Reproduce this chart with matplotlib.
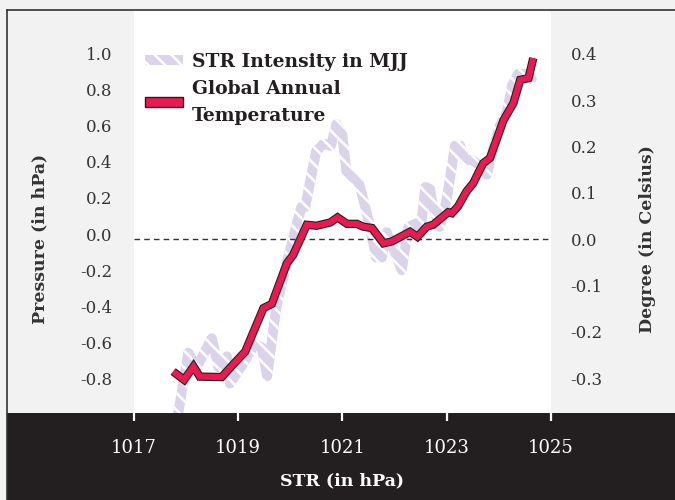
import matplotlib
matplotlib.use("Agg")
import matplotlib.pyplot as plt
import numpy as np
from matplotlib import patheffects as pe
from matplotlib.collections import PatchCollection
from matplotlib.lines import Line2D
from matplotlib.patches import Patch, Polygon, Rectangle

# STR intensity in MJJ (left axis, hPa)
str_x = [1017.82, 1018.05, 1018.21, 1018.50, 1018.63, 1018.79, 1018.85, 1019.10,
         1019.33, 1019.46, 1019.56, 1019.74, 1019.94, 1020.13, 1020.22, 1020.29,
         1020.50, 1020.64, 1020.78, 1020.89, 1021.00, 1021.08, 1021.18, 1021.31,
         1021.38, 1021.50, 1021.58, 1021.65, 1021.76, 1021.85, 1021.98, 1022.14,
         1022.27, 1022.43, 1022.49, 1022.59, 1022.68, 1022.74, 1022.87, 1023.00,
         1023.16, 1023.26, 1023.35, 1023.49, 1023.64, 1023.77, 1023.89, 1024.02,
         1024.15, 1024.25, 1024.37, 1024.50, 1024.63]
str_y = [-1.06, -0.66, -0.74, -0.58, -0.74, -0.68, -0.83, -0.72,
         -0.61, -0.63, -0.79, -0.40, -0.16, 0.06, 0.15, 0.15,
         0.46, 0.50, 0.49, 0.61, 0.55, 0.35, 0.32, 0.29,
         0.22, 0.08, -0.03, -0.13, -0.13, 0.01, -0.08, -0.20,
         0.04, 0.06, -0.01, 0.26, 0.25, 0.15, 0.04, 0.19,
         0.49, 0.49, 0.41, 0.41, 0.38, 0.33, 0.47, 0.60,
         0.67, 0.82, 0.89, 0.89, 0.86]

# Global annual temperature (right axis, degrees C)
temp_x = [1017.76, 1017.97, 1018.15, 1018.27, 1018.69, 1018.85, 1019.14, 1019.49,
          1019.65, 1019.94, 1020.06, 1020.32, 1020.51, 1020.77, 1020.91, 1021.09,
          1021.28, 1021.40, 1021.57, 1021.79, 1021.95, 1022.30, 1022.44, 1022.62,
          1022.74, 1023.03, 1023.10, 1023.22, 1023.38, 1023.51, 1023.70, 1023.83,
          1024.09, 1024.28, 1024.41, 1024.57, 1024.66]
temp_y = [-0.286, -0.304, -0.275, -0.297, -0.298, -0.278, -0.243, -0.149,
          -0.140, -0.052, -0.034, 0.031, 0.029, 0.036, 0.047, 0.033,
          0.033, 0.027, 0.024, -0.009, -0.005, 0.016, 0.005, 0.027,
          0.031, 0.058, 0.056, 0.071, 0.103, 0.121, 0.164, 0.175,
          0.257, 0.294, 0.344, 0.348, 0.391]

x_ticks = [1017, 1019, 1021, 1023, 1025]
left_ticks = [-0.8, -0.6, -0.4, -0.2, 0.0, 0.2, 0.4, 0.6, 0.8, 1.0]
right_ticks = [-0.3, -0.2, -0.1, 0.0, 0.1, 0.2, 0.3, 0.4]

LAVENDER = "#dad3e9"
RED = "#ea1a50"
DARK = "#231f20"
BG = "#f2f2f2"
TXT = "#333333"

plt.rcParams["font.family"] = "DejaVu Serif"
plt.rcParams["hatch.linewidth"] = 1.9
plt.rcParams["hatch.color"] = "white"


def hatched_stroke(ax, xs, ys, width_px):
    """Build the outline of a thick line as polygons (so it can carry a hatch)."""
    pts = ax.transData.transform(np.column_stack([xs, ys]))
    inv = ax.transData.inverted()
    half = width_px / 2
    polys = []
    for p0, p1 in zip(pts[:-1], pts[1:]):
        d = p1 - p0
        n = np.array([-d[1], d[0]]) / np.hypot(*d) * half
        quad = np.array([p0 + n, p1 + n, p1 - n, p0 - n])
        polys.append(Polygon(inv.transform(quad)))
    ang = np.linspace(0, 2 * np.pi, 24)
    ring = np.column_stack([np.cos(ang), np.sin(ang)]) * half
    for p in pts:
        polys.append(Polygon(inv.transform(ring + p)))
    return PatchCollection(polys, facecolor=LAVENDER, edgecolor="white",
                           linewidth=0, hatch="\\\\", zorder=2)


fig = plt.figure(figsize=(6.75, 5), dpi=100, facecolor=BG)

# dark band at the bottom and the frame lines
fig.add_artist(Rectangle((7 / 675, 0), 1, 87 / 500, transform=fig.transFigure,
                         facecolor=DARK, edgecolor="none", zorder=0))
fig.add_artist(Line2D([7 / 675, 7 / 675], [0, 490 / 500], transform=fig.transFigure,
                      color=TXT, lw=1.2))
fig.add_artist(Line2D([7 / 675, 1], [490 / 500, 490 / 500], transform=fig.transFigure,
                      color=TXT, lw=1.2))

ax = fig.add_axes([133.5 / 675, 87 / 500, 417.5 / 675, 403 / 500])
ax.set_facecolor("white")
ax.set_xlim(1017, 1025)
ax.set_ylim(-0.994, 1.244)
ax2 = ax.twinx()
ax2.set_ylim(-0.3756, 0.495)

ax.add_collection(hatched_stroke(ax, str_x, str_y, 10))

ax2.axhline(0, color=TXT, lw=1, dashes=(4, 3), zorder=1)
ax2.plot(temp_x, temp_y, color=RED, lw=4.4, solid_joinstyle="miter",
         solid_capstyle="butt", zorder=3,
         path_effects=[pe.Stroke(linewidth=6.0, foreground=DARK), pe.Normal()])

for a in (ax, ax2):
    for s in a.spines.values():
        s.set_visible(False)

ax.set_xticks(x_ticks)
ax.tick_params(axis="x", colors="white", length=6, width=1.6, pad=13, labelsize=13)
ax.set_yticks(left_ticks)
ax.set_yticklabels([f"{v:.1f}" for v in left_ticks])
ax.tick_params(axis="y", length=0, pad=15, labelsize=12, labelcolor=TXT)
ax2.set_yticks(right_ticks)
ax2.set_yticklabels([f"{v:.1f}" for v in right_ticks])
ax2.tick_params(axis="y", length=0, pad=14, labelsize=12, labelcolor=TXT)

ax.set_xlabel("STR (in hPa)", color="white", fontweight="bold", fontsize=12.5)
ax.xaxis.set_label_coords(0.5, -0.147)
ax.set_ylabel("Pressure (in hPa)", color=TXT, fontweight="bold", fontsize=12.5)
ax.yaxis.set_label_coords(-0.203, 0.432)
ax2.set_ylabel("Degree (in Celsius)", color=TXT, fontweight="bold", fontsize=12.5)
ax2.yaxis.set_label_coords(1.21, 0.432)

handles = [Patch(facecolor=LAVENDER, edgecolor="white", linewidth=0, hatch="\\\\"),
           Patch(facecolor=RED, edgecolor=DARK, linewidth=1)]
leg = ax2.legend(handles, ["STR Intensity in MJJ", "Global Annual\nTemperature"],
                 loc="upper left", bbox_to_anchor=(0.028, 0.893), frameon=False,
                 borderpad=0, borderaxespad=0, handlelength=2.0, handleheight=0.45,
                 handletextpad=0.5, labelspacing=0.45,
                 prop={"weight": "bold", "size": 13.5})
for t in leg.get_texts():
    t.set_color(DARK)
    t.set_linespacing(1.65)

fig.savefig("out.png", dpi=100, facecolor=BG)
